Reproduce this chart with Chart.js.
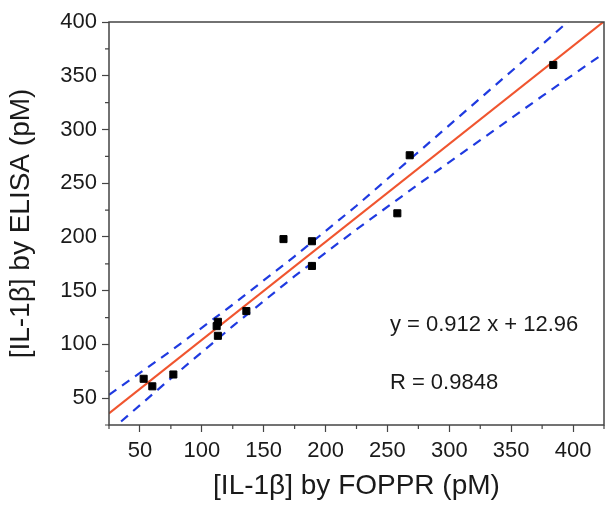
<!DOCTYPE html>
<html>
<head>
<meta charset="utf-8">
<script src="https://cdn.jsdelivr.net/npm/chart.js@4.4.1/dist/chart.umd.min.js"></script>
<style>
    html, body { margin: 0; padding: 0; background: #fff; }
</style>
</head>
<body>
<canvas id="myChart" width="606" height="506"></canvas>
<script>
// measured points: FOPPR (x) vs ELISA (y), pM
const foppr = [53, 60, 77, 112, 113, 113, 136, 166, 189, 189, 258, 268, 384];
const elisa = [68, 61, 72, 117, 121, 108, 131, 198, 196, 173, 222, 276, 360];

// linear fit y = 0.912 x + 12.96, ends of the drawn line
const fitX = [25, 425];
const fitY = [35.8, 400.6];

// dashed confidence bands
const bandX = [25, 75, 125, 175, 225, 275, 325, 375, 425];
const bandUpper = [53, 94, 137, 182, 229, 279, 329, 379, 430];
const bandLower = [18.5, 68.4, 117, 163.5, 207, 249, 290, 331, 371];

const xTicks = [50, 100, 150, 200, 250, 300, 350, 400];
const xMinor = [25, 75, 125, 175, 225, 275, 325, 375, 425];
const yTicks = [50, 100, 150, 200, 250, 300, 350, 400];
const yMinor = [25, 75, 125, 175, 225, 275, 325, 375];

const fitLabel = 'y = 0.912 x + 12.96';
const rLabel = 'R = 0.9848';

const FONT = "'Liberation Sans', Arial, Helvetica, sans-serif";
const TEXT = '#1a1a1a';
const AXIS = '#444';

const toXY = (xs, ys) => xs.map((x, i) => ({ x: x, y: ys[i] }));

// box, minor ticks and the fit text
const framePlugin = {
    id: 'frame',
    afterDraw(chart) {
        const { ctx, chartArea: a, scales } = chart;
        ctx.save();
        ctx.strokeStyle = AXIS;
        ctx.lineWidth = 1.5;
        ctx.strokeRect(a.left, a.top, a.right - a.left, a.bottom - a.top);

        ctx.lineWidth = 1.2;
        ctx.beginPath();
        xMinor.forEach(v => {
            const px = scales.x.getPixelForValue(v);
            ctx.moveTo(px, a.bottom);
            ctx.lineTo(px, a.bottom + 4);
        });
        yMinor.forEach(v => {
            const py = scales.y.getPixelForValue(v);
            ctx.moveTo(a.left, py);
            ctx.lineTo(a.left - 4, py);
        });
        ctx.stroke();

        ctx.fillStyle = TEXT;
        ctx.font = '22px ' + FONT;
        ctx.textBaseline = 'middle';
        ctx.textAlign = 'left';
        ctx.fillText(fitLabel, scales.x.getPixelForValue(252), scales.y.getPixelForValue(118));
        ctx.fillText(rLabel, scales.x.getPixelForValue(252), scales.y.getPixelForValue(64));
        ctx.restore();
    }
};

const ctx = document.getElementById('myChart').getContext('2d');
const myChart = new Chart(ctx, {
    type: 'scatter',
    data: {
        datasets: [
            {
                label: 'data',
                data: toXY(foppr, elisa),
                pointStyle: 'rect',
                pointRadius: 5,
                backgroundColor: '#000',
                borderColor: '#000',
                borderWidth: 1
            },
            {
                label: 'fit',
                data: toXY(fitX, fitY),
                showLine: true,
                pointRadius: 0,
                borderColor: '#f0552f',
                borderWidth: 2
            },
            {
                label: 'upper',
                data: toXY(bandX, bandUpper),
                showLine: true,
                pointRadius: 0,
                borderColor: '#1f3ae0',
                borderWidth: 2.2,
                borderDash: [9, 7]
            },
            {
                label: 'lower',
                data: toXY(bandX, bandLower),
                showLine: true,
                pointRadius: 0,
                borderColor: '#1f3ae0',
                borderWidth: 2.2,
                borderDash: [9, 7]
            }
        ]
    },
    options: {
        responsive: false,
        animation: false,
        devicePixelRatio: 1,
        layout: { autoPadding: false, padding: { top: 22, right: 2, left: 0, bottom: 0 } },
        plugins: {
            legend: { display: false },
            tooltip: { enabled: false }
        },
        scales: {
            x: {
                type: 'linear',
                min: 25,
                max: 425,
                afterBuildTicks: scale => { scale.ticks = xTicks.map(v => ({ value: v })); },
                afterFit: scale => {
                    scale.height = 81;
                    scale.paddingLeft = 0;
                    scale.paddingRight = 0;
                },
                border: { display: false },
                grid: { drawOnChartArea: false, tickLength: 7, tickColor: AXIS, tickWidth: 1.2 },
                ticks: { color: TEXT, padding: 6, maxRotation: 0, font: { family: FONT, size: 22 } },
                title: {
                    display: true,
                    text: '[IL-1β] by FOPPR (pM)',
                    color: TEXT,
                    padding: 3,
                    font: { family: FONT, size: 28 }
                }
            },
            y: {
                type: 'linear',
                min: 25,
                max: 400,
                afterBuildTicks: scale => { scale.ticks = yTicks.map(v => ({ value: v })); },
                afterFit: scale => { scale.width = 109; },
                border: { display: false },
                grid: { drawOnChartArea: false, tickLength: 7, tickColor: AXIS, tickWidth: 1.2 },
                ticks: { color: TEXT, padding: 5, font: { family: FONT, size: 22 } },
                title: {
                    display: true,
                    text: '[IL-1β] by ELISA (pM)',
                    color: TEXT,
                    padding: 4,
                    font: { family: FONT, size: 28 }
                }
            }
        }
    },
    plugins: [framePlugin]
});
</script>
</body>
</html>
